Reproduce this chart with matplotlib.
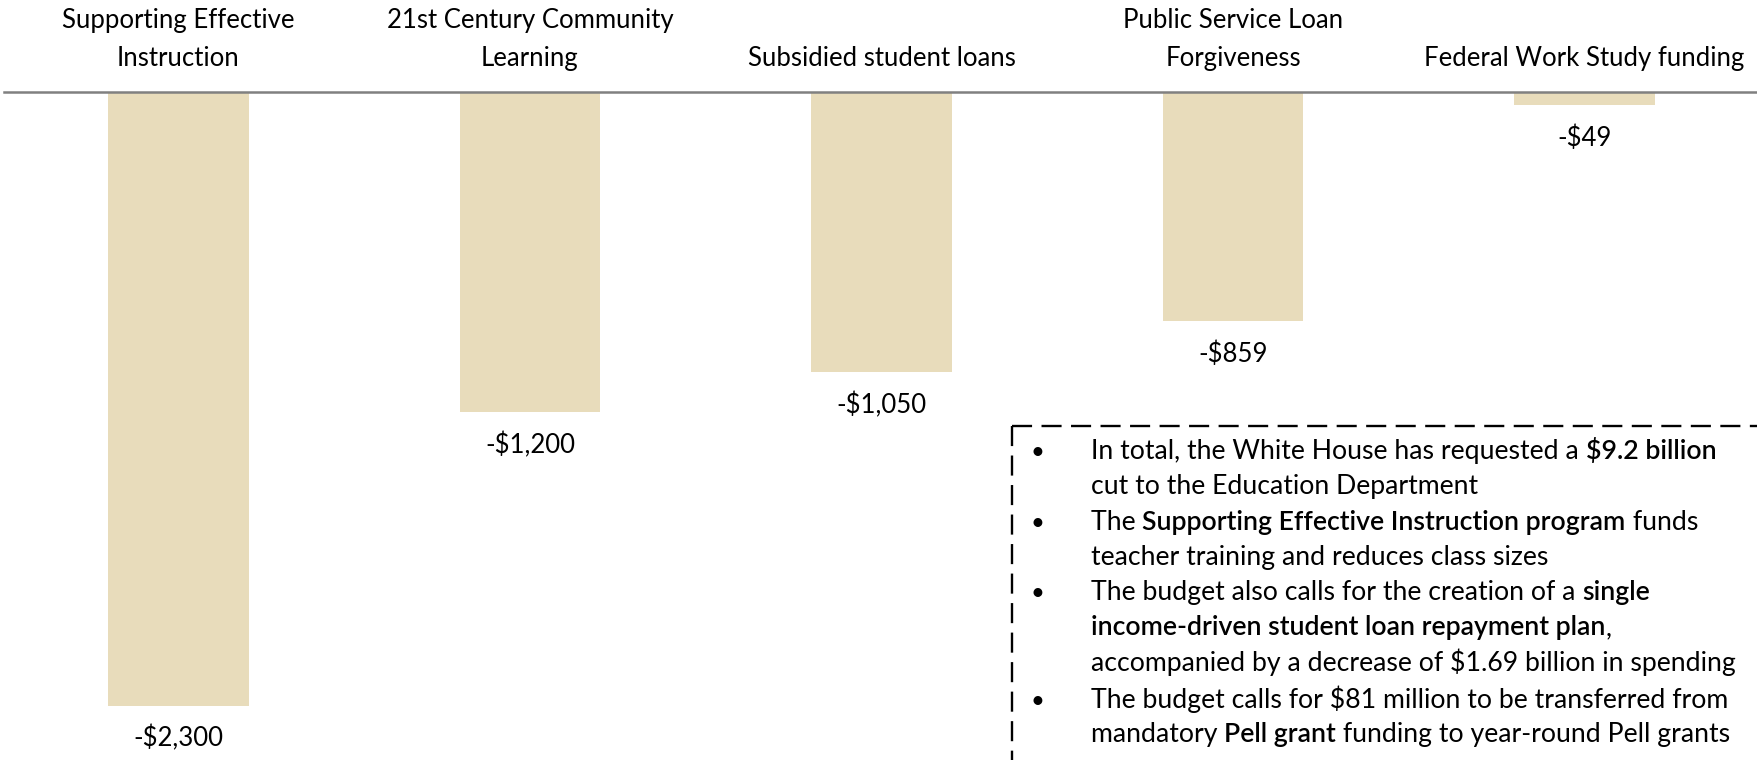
import matplotlib
matplotlib.use("Agg")
import matplotlib.pyplot as plt

plt.rcParams["text.parse_math"] = False

# data
programs = ["Supporting Effective\nInstruction", "21st Century Community\nLearning",
            "Subsidied student loans", "Public Service Loan\nForgiveness",
            "Federal Work Study funding"]
cuts = [-2300, -1200, -1050, -859, -49]
value_labels = ["-$2,300", "-$1,200", "-$1,050", "-$859", "-$49"]

# notes box: each line is a list of (text, emphasised) runs; True in front = new bullet
notes = [
    (True, [("In total, the White House has requested a ", False), ("$9.2 billion", True)]),
    (False, [("cut to the Education Department", False)]),
    (True, [("The ", False), ("Supporting Effective Instruction program", True), (" funds", False)]),
    (False, [("teacher training and reduces class sizes", False)]),
    (True, [("The budget also calls for the creation of a ", False), ("single", True)]),
    (False, [("income-driven student loan repayment plan", True), (",", False)]),
    (False, [("accompanied by a decrease of $1.69 billion in spending", False)]),
    (True, [("The budget calls for $81 million to be transferred from", False)]),
    (False, [("mandatory ", False), ("Pell grant", True), (" funding to year-round Pell grants", False)]),
]

FONT = "Lato"
W_PLAIN, W_EMPH = 400, 600

BAR_COLOR = "#E8DCBB"
W, H = 1758, 760
fig = plt.figure(figsize=(W / 100, H / 100), dpi=100)
ax = fig.add_axes([0, 0, 1, 1])
ax.axis("off")

x = range(len(cuts))
ax.bar(x, cuts, width=0.401, color=BAR_COLOR, zorder=1)
ax.set_xlim(-0.5078, 4.4936)
ax.set_ylim(-2503.7, 344.8)
ax.axhline(0, xmin=0.002, xmax=1, color="#808080", lw=1.8, zorder=2)

fs = 18.5
for i, (name, v, lab) in enumerate(zip(programs, cuts, value_labels)):
    lines = name.split("\n")
    for k, line in enumerate(reversed(lines)):
        ax.annotate(line, (i, 0), xytext=(0, 26 + 38 * k), textcoords="offset pixels",
                    ha="center", va="baseline", fontsize=fs, family=FONT)
    ax.annotate(lab, (i, v), xytext=(0, -41), textcoords="offset pixels",
                ha="center", va="baseline", fontsize=fs, family=FONT, weight=W_PLAIN)

# dashed notes box (runs off the right and bottom edges)
bx, by = 1012, 426
dash = dict(color="black", lw=1.7, dashes=(8.5, 4.0), transform=fig.transFigure, clip_on=False)
fig.add_artist(plt.Line2D([bx / W, 1.01], [1 - by / H] * 2, **dash))
fig.add_artist(plt.Line2D([bx / W] * 2, [1 - by / H, -0.01], **dash))

renderer = fig.canvas.get_renderer()
fs_note = 19.2


def text_width(s, weight):
    t = fig.text(0, 0, "|" + s + "|", fontsize=fs_note, family=FONT, weight=weight)
    w = t.get_window_extent(renderer).width
    t.set_text("||")
    w -= t.get_window_extent(renderer).width
    t.remove()
    return w


baselines = [459, 494, 530, 565, 600, 635, 671, 708, 742]
for (bullet, runs), yb in zip(notes, baselines):
    yf = 1 - yb / H
    if bullet:
        fig.text(1037 / W, yf, "•", ha="center", va="baseline", fontsize=fs_note - 2, family=FONT)
    xp = 1091
    for seg, emph in runs:
        wt = W_EMPH if emph else W_PLAIN
        fig.text(xp / W, yf, seg, ha="left", va="baseline", fontsize=fs_note, family=FONT, weight=wt)
        xp += text_width(seg, wt)

fig.savefig("out.png", dpi=100)
